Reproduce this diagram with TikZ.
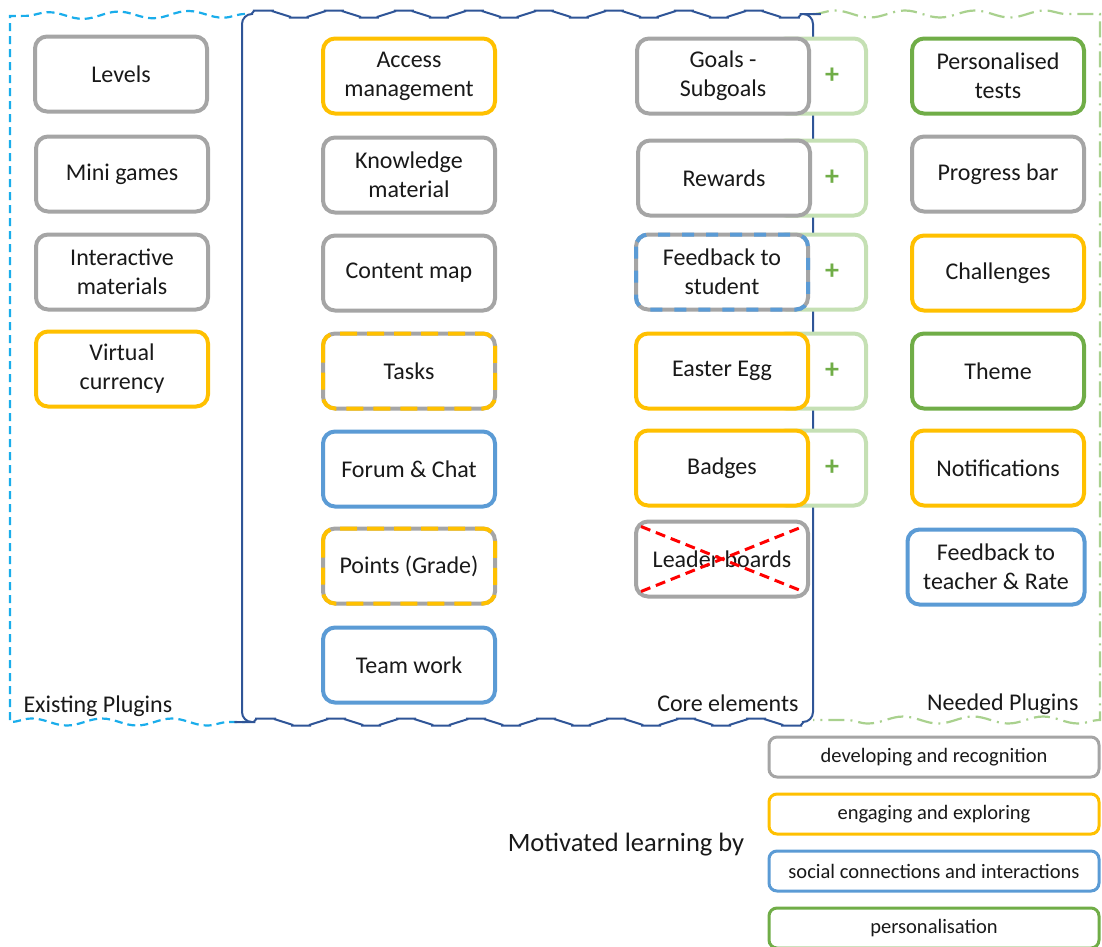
\documentclass[tikz,border=0pt]{standalone}
\usepackage{fontspec}
\setmainfont{Carlito}
\usetikzlibrary{decorations.pathmorphing, positioning}

\definecolor{grayc}{HTML}{A5A5A5}
\definecolor{yellowc}{HTML}{FFC000}
\definecolor{bluec}{HTML}{5B9BD5}
\definecolor{greenc}{HTML}{70AD47}
\definecolor{lgreenc}{HTML}{C5E0B4}
\definecolor{cyanc}{HTML}{1AADEB}
\definecolor{navyc}{HTML}{2F5597}
\definecolor{dgreenc}{HTML}{A9D18E}

\newcommand{\elemfont}{\fontsize{24}{29}\selectfont}
\newcommand{\legfont}{\fontsize{20.5}{24}\selectfont}

\tikzset{
  elem/.style={draw, rounded corners=12pt, line width=4pt, fill=white, outer sep=0pt,
    minimum width=172pt, minimum height=75pt, align=center, font=\elemfont, text=black!90},
  devel/.style={elem, draw=grayc},
  engag/.style={elem, draw=yellowc},
  social/.style={elem, draw=bluec},
  perso/.style={elem, draw=greenc},
  plusbox/.style={elem, draw=lgreenc, minimum width=92pt},
  plussign/.style={text=greenc, font=\fontsize{28}{28}\selectfont\bfseries},
  overdash/.style={line width=4pt, rounded corners=12pt},
  legbox/.style={draw, rounded corners=8pt, line width=3pt, fill=white, minimum width=330pt,
    minimum height=40pt, font=\legfont, text=black!90},
  grouplabel/.style={font=\elemfont, text=black!90},
  wave/.style={decoration={snake, amplitude=3.5pt, segment length=70pt}}
}

\begin{document}
\begin{tikzpicture}[x=1pt, y=-1pt]
\useasboundingbox (0,0) rectangle (1102,946);

% group frames
\draw[cyanc, line width=2.2pt, dash pattern=on 8pt off 5pt, wave] (245,14) decorate {-- (10,16)} -- (10,722) decorate {-- (245,722)};
\draw[dgreenc, line width=2.2pt, dash pattern=on 16pt off 6pt on 2pt off 6pt, wave] (813,14) decorate {-- (1100,14)} -- (1100,720) decorate {-- (813,720)};
\draw[navyc, line width=2pt, rounded corners=10pt, wave] (242,14) decorate {-- (813,14)} -- (813,722) decorate {-- (242,722)} -- cycle;

% group labels
\node[grouplabel, anchor=west] (lexist) at (20,706) {Existing Plugins};
\node[grouplabel, anchor=east] (lcore) at (802,703) {Core elements};
\node[grouplabel, anchor=east] (lneed) at (1082,704) {Needed Plugins};

% existing plugins
\node[devel] (levels) at (121,74) {Levels};
\node[devel] (minigames) at (122,174) {Mini games};
\node[devel] (interactive) at (122,272) {Interactive\\materials};
\node[engag] (currency) at (122,369) {Virtual\\currency};

% core elements, first column
\node[engag] (access) at (409,76) {Access\\management};
\node[devel] (knowledge) at (409,175) {Knowledge\\material};
\node[devel] (contentmap) at (409,273) {Content map};
\node[devel] (tasks) at (409,371) {Tasks};
\draw[yellowc, overdash, dash pattern=on 17pt off 10pt] (tasks.north west) rectangle (tasks.south east);
\node[social] (forum) at (409,469) {Forum \& Chat};
\node[devel] (points) at (409,566) {Points (Grade)};
\draw[yellowc, overdash, dash pattern=on 17pt off 10pt] (points.north west) rectangle (points.south east);
\node[social] (teamwork) at (409,665) {Team work};

% plus boxes behind second column
\node[plusbox] (pgoals) at (820,76) {};
\node[plusbox] (prewards) at (820,178) {};
\node[plusbox] (pfeedback) at (820,272) {};
\node[plusbox] (peaster) at (820,371) {};
\node[plusbox] (pbadges) at (820,468) {};
\node[plussign] (sgoals) at (832,76) {+};
\node[plussign] (srewards) at (832,178) {+};
\node[plussign] (sfeedback) at (832,272) {+};
\node[plussign] (seaster) at (832,371) {+};
\node[plussign] (sbadges) at (832,468) {+};

% core elements, second column
\node[devel] (goals) at (723,76) {Goals -\\Subgoals};
\node[devel] (rewards) at (724,178) {Rewards};
\node[devel] (fbstudent) at (722,272) {Feedback to\\student};
\draw[bluec, overdash, dash pattern=on 12pt off 12pt] (fbstudent.north west) rectangle (fbstudent.south east);
\node[engag] (easter) at (722,371) {Easter Egg};
\node[engag] (badges) at (722,468) {Badges};
\node[devel] (leader) at (722,559) {Leader boards};
\draw[red, line width=3pt, dash pattern=on 10pt off 6pt]
  ([shift={(5,5)}]leader.north west) -- ([shift={(-5,-5)}]leader.south east)
  ([shift={(5,-5)}]leader.south west) -- ([shift={(-5,5)}]leader.north east);

% needed plugins
\node[perso] (perstests) at (998,76) {Personalised\\tests};
\node[devel] (progress) at (998,174) {Progress bar};
\node[engag] (challenges) at (998,273) {Challenges};
\node[perso] (theme) at (998,371) {Theme};
\node[engag] (notif) at (998,468) {Notifications};
\node[social, minimum width=177pt] (fbteacher) at (996,567) {Feedback to\\teacher \& Rate};

% legend
\node[font=\fontsize{26.5}{30}\selectfont, text=black!90] (motiv) at (626,845) {Motivated learning by};
\node[legbox, draw=grayc] (ldevel) at (934,757) {developing and recognition};
\node[legbox, draw=yellowc] (lengag) at (934,814) {engaging and exploring};
\node[legbox, draw=bluec] (lsocial) at (934,871) {social connections and interactions};
\node[legbox, draw=greenc] (lperso) at (934,928) {personalisation};

\end{tikzpicture}
\end{document}
